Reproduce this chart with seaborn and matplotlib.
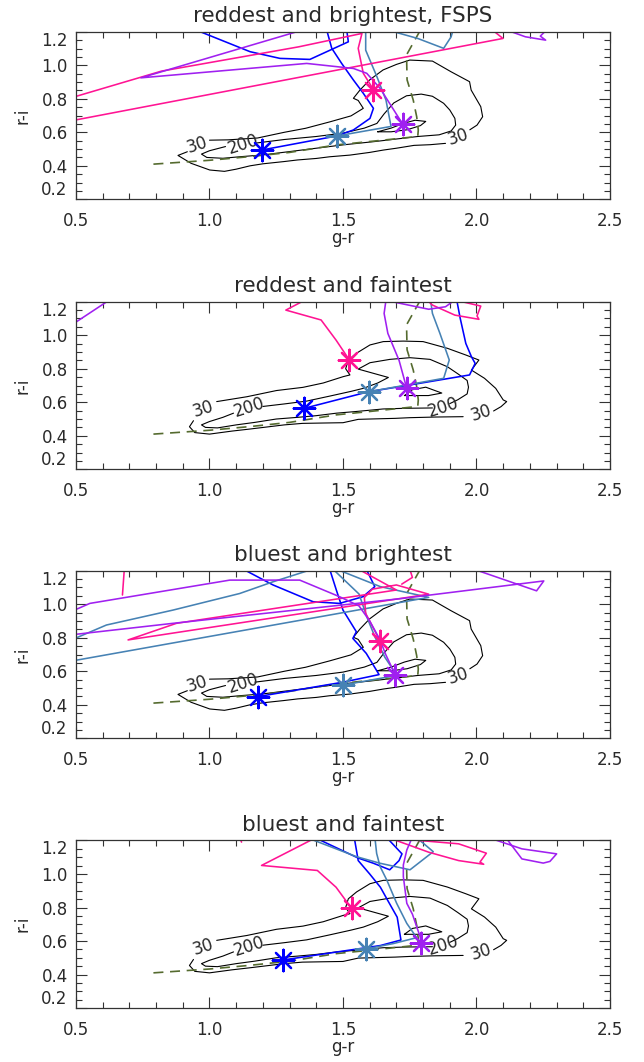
import matplotlib
matplotlib.use('Agg')
import matplotlib.pyplot as plt
from matplotlib.ticker import FixedLocator, MultipleLocator
import pandas as pd
import seaborn as sns

# panel titles
titles = ['reddest and brightest, FSPS', 'reddest and faintest',
          'bluest and brightest', 'bluest and faintest']

x_ticks = [0.5, 1.0, 1.5, 2.0, 2.5]
x_tick_labels = ['0.5', '1.0', '1.5', '2.0', '2.5']
y_ticks = [0.2, 0.4, 0.6, 0.8, 1.0, 1.2]
y_tick_labels = ['0.2', '0.4', '0.6', '0.8', '1.0', '1.2']

# --- number-density contours (same background sample in panels 1/3 and 2/4) ---
bright_30_upper = [(1.00, 0.553), (1.07, 0.555), (1.18, 0.566), (1.28, 0.600), (1.36, 0.624),
                   (1.45, 0.662), (1.53, 0.698), (1.576, 0.743), (1.557, 0.790), (1.539, 0.803),
                   (1.564, 0.853), (1.60, 0.913), (1.65, 0.972), (1.70, 1.005), (1.75, 1.031),
                   (1.835, 1.025), (1.905, 0.961), (1.974, 0.902), (1.98, 0.852), (2.016, 0.753),
                   (2.023, 0.693), (2.002, 0.643), (1.975, 0.615)]
bright_30_lower = [(1.884, 0.534), (1.826, 0.526), (1.766, 0.522), (1.70, 0.505), (1.651, 0.494),
                   (1.60, 0.480), (1.526, 0.464), (1.45, 0.454), (1.40, 0.444), (1.33, 0.435),
                   (1.277, 0.425), (1.20, 0.412), (1.152, 0.400), (1.10, 0.380), (1.056, 0.367),
                   (1.001, 0.375), (0.931, 0.415), (0.882, 0.462), (0.917, 0.484)]
bright_200 = [(1.17, 0.535), (1.28, 0.557), (1.40, 0.575), (1.50, 0.595), (1.58, 0.625),
              (1.627, 0.653), (1.654, 0.710), (1.69, 0.775), (1.738, 0.818), (1.793, 0.828),
              (1.835, 0.815), (1.877, 0.773), (1.90, 0.733), (1.919, 0.683), (1.922, 0.643),
              (1.905, 0.608), (1.86, 0.585), (1.78, 0.575), (1.70, 0.560), (1.62, 0.545),
              (1.50, 0.525), (1.40, 0.505), (1.30, 0.485), (1.20, 0.465), (1.12, 0.455),
              (1.05, 0.445), (0.99, 0.450), (0.97, 0.470), (1.00, 0.490), (1.06, 0.515)]
bright_core = [(1.63, 0.603), (1.68, 0.625), (1.73, 0.655), (1.77, 0.672), (1.81, 0.665),
               (1.79, 0.640), (1.74, 0.615), (1.68, 0.603), (1.63, 0.603)]
bright_labels = [(0.955, 0.522, '30'), (1.125, 0.530, '200'), (1.933, 0.572, '30')]

faint_30_upper = [(1.027, 0.604), (1.14, 0.633), (1.251, 0.670), (1.35, 0.689), (1.426, 0.715),
                  (1.501, 0.753), (1.526, 0.763), (1.51, 0.800), (1.52, 0.852), (1.551, 0.893),
                  (1.601, 0.942), (1.651, 0.962), (1.726, 0.965), (1.80, 0.962), (1.891, 0.922),
                  (1.96, 0.882), (2.009, 0.852), (1.981, 0.792), (2.03, 0.743), (2.072, 0.683),
                  (2.10, 0.614), (2.113, 0.604), (2.092, 0.574), (2.064, 0.548)]
faint_30_lower = [(1.95, 0.514), (1.85, 0.512), (1.75, 0.508), (1.696, 0.504), (1.60, 0.500),
                  (1.557, 0.498), (1.50, 0.478), (1.42, 0.476), (1.348, 0.474), (1.28, 0.465),
                  (1.223, 0.454), (1.15, 0.440), (1.084, 0.428), (1.00, 0.410), (0.945, 0.419),
                  (0.925, 0.454), (0.94, 0.490)]
faint_200_upper = [(1.20, 0.575), (1.28, 0.590), (1.364, 0.607), (1.451, 0.637), (1.53, 0.665),
                   (1.576, 0.683), (1.63, 0.715), (1.67, 0.748), (1.62, 0.770), (1.557, 0.798),
                   (1.601, 0.836), (1.676, 0.856), (1.751, 0.866), (1.826, 0.856), (1.891, 0.812),
                   (1.93, 0.770), (1.965, 0.730), (1.97, 0.690), (1.965, 0.650), (1.93, 0.615),
                   (1.90, 0.592)]
faint_200_lower = [(1.835, 0.566), (1.73, 0.564), (1.65, 0.560), (1.55, 0.545), (1.476, 0.535),
                   (1.40, 0.520), (1.33, 0.510), (1.25, 0.500), (1.17, 0.480), (1.10, 0.465),
                   (1.03, 0.447), (0.985, 0.450), (0.97, 0.465), (1.00, 0.485), (1.05, 0.510),
                   (1.09, 0.535)]
faint_core = [(1.73, 0.640), (1.76, 0.675), (1.81, 0.690), (1.87, 0.655), (1.82, 0.640),
              (1.73, 0.640)]
faint_labels = [(0.975, 0.562, '30'), (1.15, 0.568, '200'), (1.875, 0.572, '200'),
                (2.016, 0.536, '30')]

# model track (dashed)
model_track = [(0.79, 0.410), (1.0, 0.433), (1.152, 0.455), (1.30, 0.480), (1.476, 0.525),
               (1.60, 0.545), (1.78, 0.575), (1.782, 0.614), (1.776, 0.693), (1.763, 0.793),
               (1.74, 0.913), (1.738, 1.062), (1.79, 1.21)]

# --- coloured evolution tracks; star = present-day point (first point of first segment) ---
p1_blue = [[(1.195, 0.494), (1.476, 0.578), (1.539, 0.614), (1.601, 0.683), (1.614, 0.743),
            (1.576, 0.833), (1.539, 0.912), (1.495, 1.011), (1.458, 1.101), (1.439, 1.21)],
           [(0.95, 1.21), (1.152, 1.081), (1.264, 1.041), (1.376, 1.035), (1.52, 1.14), (1.514, 1.21)]]
p1_steel = [[(1.476, 0.578), (1.68, 0.635), (1.661, 0.792), (1.627, 0.932), (1.585, 1.09),
             (1.585, 1.21)],
            [(1.668, 1.21), (1.78, 1.16), (1.877, 1.101), (1.905, 1.17), (1.912, 1.21)]]
p1_pink = [[(1.614, 0.855), (1.576, 0.952), (1.557, 1.101), (1.571, 1.19), (1.334, 1.11),
            (0.82, 0.965), (0.48, 0.805)],
           [(0.48, 0.668), (2.099, 1.16), (2.06, 1.21)]]
p1_purple = [[(1.724, 0.648), (1.639, 0.862), (1.589, 0.952), (1.539, 0.981), (1.364, 1.011),
              (0.743, 0.925), (1.348, 1.21)],
             [(2.113, 1.21), (2.183, 1.17), (2.259, 1.15), (2.239, 1.174), (2.262, 1.21)]]

p2_blue = [[(1.355, 0.564), (1.596, 0.663), (1.738, 0.700), (1.974, 0.763), (1.995, 0.832),
            (1.981, 0.872), (1.96, 0.951), (1.939, 1.101), (1.926, 1.21)]]
p2_steel = [[(1.596, 0.663), (1.738, 0.703), (1.877, 0.743), (1.898, 0.852), (1.863, 1.011),
             (1.835, 1.13), (1.828, 1.21)]]
p2_pink = [[(1.524, 0.852), (1.474, 0.971), (1.418, 1.091), (1.286, 1.15), (1.358, 1.21)],
           [(1.919, 1.21), (2.016, 1.174), (2.002, 1.115), (2.009, 1.095), (1.919, 1.12),
            (1.835, 1.18), (1.814, 1.21)]]
p2_purple = [[(1.738, 0.687), (1.71, 0.850), (1.668, 1.011), (1.654, 1.13), (1.661, 1.21)],
             [(1.654, 1.21), (1.821, 1.155), (1.884, 1.17), (1.919, 1.21)],
             [(0.49, 1.068), (0.625, 1.21)]]

p3_blue = [[(1.182, 0.449), (1.50, 0.535), (1.635, 0.580), (1.625, 0.607), (1.587, 0.707),
            (1.537, 0.796), (1.55, 0.836), (1.50, 0.965), (1.475, 1.085), (1.45, 1.21)],
           [(1.125, 1.21), (1.238, 1.115), (1.388, 1.015), (1.487, 1.005), (1.575, 1.045),
            (1.619, 1.105), (1.587, 1.21)]]
p3_steel = [[(1.501, 0.518), (1.70, 0.575), (1.69, 0.604), (1.657, 0.683), (1.62, 0.803),
             (1.59, 0.922), (1.56, 1.061), (1.462, 1.21)],
            [(1.388, 1.21), (1.238, 1.134), (1.113, 1.064), (0.863, 0.965), (0.614, 0.876),
             (0.48, 0.785)],
            [(0.48, 0.660), (1.821, 1.041), (1.64, 1.105), (1.474, 1.21)]]
p3_pink = [[(1.638, 0.782), (1.60, 0.900), (1.585, 0.945), (1.58, 1.04), (1.61, 1.09),
            (1.70, 1.115), (1.821, 1.06), (0.695, 0.787), (0.876, 0.886), (1.70, 1.085),
            (1.557, 1.21)],
           [(1.75, 1.21), (1.76, 1.16), (1.72, 1.12)],
           [(0.674, 1.055), (0.681, 1.21)]]
p3_purple = [[(1.696, 0.578), (1.66, 0.700), (1.638, 0.790), (1.60, 0.900), (1.56, 0.990),
              (1.487, 1.045), (1.338, 1.144), (1.076, 1.144), (0.552, 1.005), (0.48, 0.955)],
             [(0.48, 0.817), (0.863, 0.886), (1.725, 1.035), (2.252, 1.139), (2.225, 1.08),
              (1.988, 1.21)]]

p4_blue = [[(1.276, 0.487), (1.64, 0.573), (1.717, 0.606), (1.703, 0.742), (1.668, 0.841),
            (1.64, 0.921), (1.60, 1.00), (1.557, 1.08), (1.543, 1.21)],
           [(1.404, 1.21), (1.557, 1.095), (1.614, 1.064), (1.675, 1.025), (1.71, 1.08),
            (1.721, 1.12), (1.668, 1.21)]]
p4_steel = [[(1.588, 0.553), (1.689, 0.585), (1.776, 0.620), (1.739, 0.705), (1.701, 0.825),
             (1.664, 0.964), (1.639, 1.044), (1.626, 1.123), (1.620, 1.21)],
            [(1.376, 1.21), (1.551, 1.103), (1.639, 1.064), (1.751, 1.025), (1.838, 1.133),
             (1.801, 1.183), (1.78, 1.21)]]
p4_pink = [[(1.532, 0.795), (1.474, 0.921), (1.404, 1.021), (1.195, 1.051), (1.39, 1.21)],
           [(1.115, 1.21), (1.12, 1.19)],
           [(1.71, 1.21), (1.933, 1.18), (2.037, 1.124), (2.013, 1.071), (2.027, 1.058),
            (1.933, 1.08), (1.821, 1.13), (1.682, 1.21)]]
p4_purple = [[(1.793, 0.586), (1.789, 0.625), (1.76, 0.760), (1.739, 0.825), (1.726, 0.984),
              (1.726, 1.054), (1.739, 1.143), (1.757, 1.21)],
             [(2.058, 1.21), (2.17, 1.15), (2.30, 1.12), (2.275, 1.075), (2.25, 1.065),
              (2.17, 1.09), (2.113, 1.21)]]

contour_sets = {
    'bright': ([bright_30_upper, bright_30_lower, bright_200, bright_core], bright_labels),
    'faint': ([faint_30_upper, faint_30_lower, faint_200_upper, faint_200_lower, faint_core],
              faint_labels),
}
panel_contours = ['bright', 'faint', 'bright', 'faint']
panel_tracks = [
    [p1_blue, p1_steel, p1_pink, p1_purple],
    [p2_blue, p2_steel, p2_pink, p2_purple],
    [p3_blue, p3_steel, p3_pink, p3_purple],
    [p4_blue, p4_steel, p4_pink, p4_purple],
]
track_colors = ['#0000FF', '#4682B4', '#FF1493', '#A020F0']

sns.set_style('ticks')
plt.rcParams['font.family'] = ['DejaVu Sans']
text_color = '#2a2a2a'


def draw_path(ax, pts, color, lw, **kw):
    df = pd.DataFrame(pts, columns=['x', 'y'])
    sns.lineplot(data=df, x='x', y='y', sort=False, estimator=None,
                 color=color, linewidth=lw, ax=ax, **kw)


fig = plt.figure(figsize=(6.44, 10.62), dpi=100)
bottoms = [0.8123, 0.5581, 0.3048, 0.0508]

for i, b in enumerate(bottoms):
    ax = fig.add_axes([0.118, b, 0.8292, 0.1578])

    lines, labels = contour_sets[panel_contours[i]]
    for seg in lines:
        draw_path(ax, seg, 'black', 0.8)
    for lx, ly, txt in labels:
        ax.text(lx, ly, txt, fontsize=12, rotation=18, ha='center', va='center',
                color=text_color)

    draw_path(ax, model_track, '#556B2F', 1.2, linestyle=(0, (6, 4)))

    for track, col in zip(panel_tracks[i], track_colors):
        for seg in track:
            draw_path(ax, seg, col, 1.15)
    for track, col in zip(panel_tracks[i], track_colors):
        sx, sy = track[0][0]
        sns.scatterplot(x=[sx], y=[sy], marker=(8, 2, 0), s=240, color=col,
                        linewidth=1.6, ax=ax, zorder=5)

    ax.set_xlim(0.5, 2.5)
    ax.set_ylim(0.2, 1.2)
    ax.xaxis.set_major_locator(FixedLocator(x_ticks))
    ax.set_xticklabels(x_tick_labels)
    ax.xaxis.set_minor_locator(MultipleLocator(0.1))
    ax.yaxis.set_major_locator(FixedLocator(y_ticks))
    ax.set_yticklabels(y_tick_labels)
    ax.yaxis.set_minor_locator(MultipleLocator(0.05))
    ax.tick_params(which='both', direction='in', top=True, right=True, width=0.8,
                   color='#333333', labelcolor=text_color, labelsize=12)
    ax.tick_params(which='major', length=8)
    ax.tick_params(which='minor', length=4)
    ax.tick_params(axis='x', pad=9)
    ax.tick_params(axis='y', pad=6)
    ylabs = ax.get_yticklabels()
    ylabs[0].set_verticalalignment('bottom')
    ylabs[-1].set_verticalalignment('top')
    for sp in ax.spines.values():
        sp.set_color('#333333')
        sp.set_linewidth(0.9)

    ax.set_title(titles[i], fontsize=15.5, pad=7, color=text_color)
    ax.set_xlabel('g-r', fontsize=12, color=text_color, va='center')
    ax.set_ylabel('r-i', fontsize=12, color=text_color, va='center')
    ax.xaxis.set_label_coords(0.5, -0.233)
    ax.yaxis.set_label_coords(-0.101, 0.5)

fig.savefig('out.png', dpi=100, facecolor='white')
